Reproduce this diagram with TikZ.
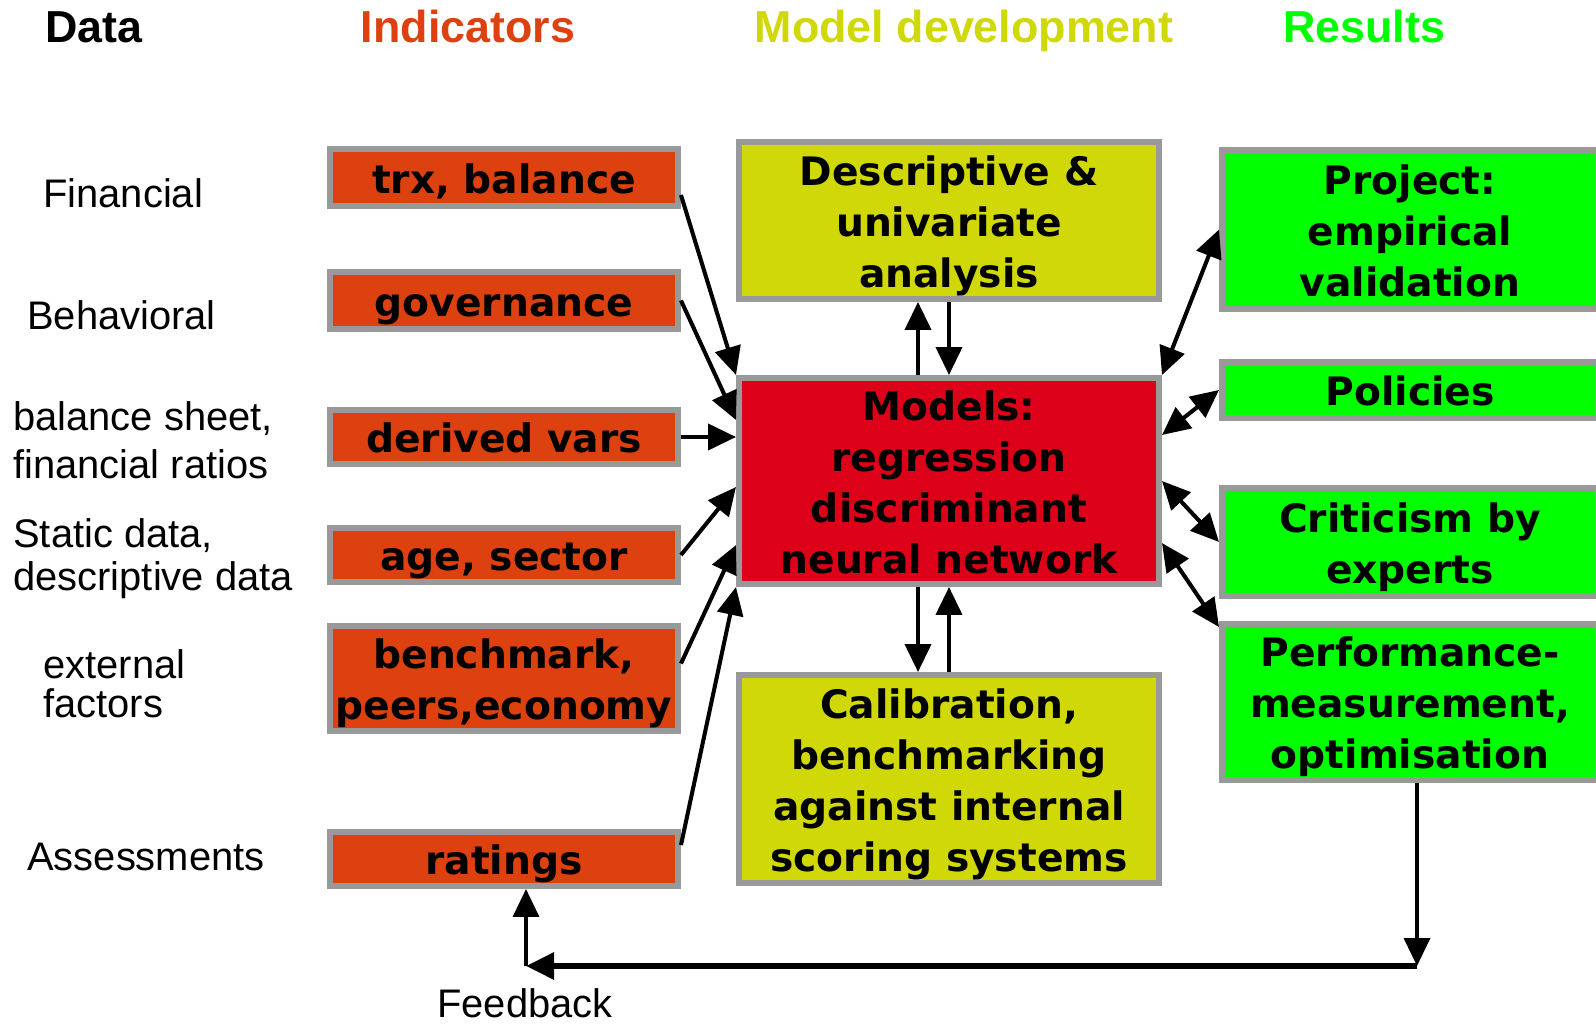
\documentclass[tikz,border=0pt]{standalone}
\usepackage{fontspec}
\setmainfont{Liberation Sans}
\newfontfamily\boxfont{DejaVu Sans}
\usetikzlibrary{arrows.meta}

\definecolor{indorange}{RGB}{221,65,15}
\definecolor{modred}{RGB}{220,0,24}
\definecolor{devyellow}{RGB}{208,216,8}
\definecolor{resgreen}{RGB}{0,255,0}
\definecolor{framegray}{RGB}{153,153,153}

% fixed line top for the box texts
\newcommand\boxtop{\rule{0pt}{23.5pt}}

\begin{document}
\begin{tikzpicture}[
    >={Triangle[length=0.56cm,width=0.52cm]},
    box/.style={draw=framegray,line width=3.4pt,align=center,inner sep=0pt,
                font=\boxfont\bfseries\fontsize{22.3}{29}\selectfont,
                execute at end node={\rule[-5.5pt]{0pt}{5.5pt}}},
    ind/.style={box,fill=indorange,minimum width=6.96cm},
    dev/.style={box,fill=devyellow,minimum width=8.4cm},
    res/.style={box,fill=resgreen,minimum width=7.52cm},
    src/.style={anchor=base west,align=left,inner sep=0pt,
                font=\fontsize{22.7}{27.2}\selectfont},
    head/.style={anchor=base,inner sep=0pt,font=\bfseries\fontsize{25.5}{30}\selectfont},
    arr/.style={->,line width=2.3pt},
    darr/.style={<->,line width=2.3pt}
]
    \useasboundingbox (0,0) rectangle (31.92,20.48);
    % Definitions
    \coordinate (TB)  at (10.08,16.93);
    \coordinate (GO)  at (10.08,14.47);
    \coordinate (DV)  at (10.08,11.74);
    \coordinate (AS)  at (10.08,9.38);
    \coordinate (BP)  at (10.08,6.91);
    \coordinate (RA)  at (10.08,3.30);
    \coordinate (DU)  at (18.98,16.07);
    \coordinate (MO)  at (18.98,10.86);
    \coordinate (CB)  at (18.98,4.90);
    \coordinate (PR)  at (28.20,15.89);
    \coordinate (PO)  at (28.20,12.68);
    \coordinate (CE)  at (28.20,9.64);
    \coordinate (PM)  at (28.20,6.44);
    \coordinate (FBR) at (28.34,1.16);
    \coordinate (FBL) at (10.52,1.16);
    % Headers
    \node(HDat) at (0.90,19.62)  [head,anchor=base west] {Data};
    \node(HInd) at (9.36,19.62)  [head,text=indorange] {Indicators};
    \node(HMod) at (19.28,19.62) [head,text=devyellow] {Model development};
    \node(HRes) at (27.28,19.62) [head,text=resgreen]  {Results};
    % Data sources (base = last line)
    \node(SFin) at (0.86,16.32) [src] {Financial};
    \node(SBeh) at (0.54,13.88) [src] {Behavioral};
    \node(SBal) at (0.26,10.92) [src] {balance sheet,\\financial ratios};
    \node(SSta) at (0.26,8.68)  [src,font=\fontsize{22.7}{24.4}\selectfont] {Static data,\\descriptive data};
    \node(SExt) at (0.86,6.14)  [src,font=\fontsize{22.7}{22.1}\selectfont] {external\\factors};
    \node(SAss) at (0.54,3.08)  [src] {Assessments};
    \node(Feed) at (10.50,0.14) [src,anchor=base] {Feedback};
    % Indicators
    \node(TrBa) at (TB) [ind,minimum height=1.14cm] {\boxtop trx, balance};
    \node(Gove) at (GO) [ind,minimum height=1.14cm] {\boxtop governance};
    \node(DeVa) at (DV) [ind,minimum height=1.08cm] {\boxtop derived vars};
    \node(AgSe) at (AS) [ind,minimum height=1.08cm] {\boxtop age, sector};
    \node(BePe) at (BP) [ind,minimum height=2.10cm] {\boxtop benchmark,\\peers,economy};
    \node(Rati) at (RA) [ind,minimum height=1.08cm] {\boxtop ratings};
    % Model development
    \node(DeUn) at (DU) [dev,minimum height=3.14cm] {\boxtop Descriptive \&\\univariate\\analysis};
    \node(Mode) at (MO) [box,fill=modred,minimum width=8.4cm,minimum height=4.12cm] {\boxtop Models:\\regression\\discriminant\\neural network};
    \node(CaBe) at (CB) [dev,minimum height=4.16cm] {\boxtop Calibration,\\benchmarking\\against internal\\scoring systems};
    % Results
    \node(Proj) at (PR) [res,minimum height=3.18cm] {\boxtop Project:\\empirical\\validation};
    \node(Poli) at (PO) [res,minimum height=1.12cm] {\boxtop Policies};
    \node(CrEx) at (CE) [res,minimum height=2.16cm] {\boxtop Criticism by\\experts};
    \node(PeMe) at (PM) [res,minimum height=3.12cm] {\boxtop Performance-\\measurement,\\optimisation};
    % Arrows
    \draw[arr]  ([yshift=-0.35cm]TrBa.east) -- (Mode.north west);
    \draw[arr]  (Gove.east)                 -- ([yshift=1.22cm]Mode.west);
    \draw[arr]  (DeVa.east)                 -- (DeVa.east -| Mode.west);
    \draw[arr]  (AgSe.east)                 -- ([yshift=-0.12cm]Mode.west);
    \draw[arr]  ([yshift=0.30cm]BePe.east)  -- ([yshift=-1.28cm]Mode.west);
    \draw[arr]  ([yshift=0.28cm]Rati.east)  -- (Mode.south west);
    \draw[arr]  ([xshift=-0.62cm]Mode.north) -- ([xshift=-0.62cm]DeUn.south);
    \draw[arr]  (DeUn.south)                -- (Mode.north);
    \draw[arr]  ([xshift=-0.62cm]Mode.south) -- ([xshift=-0.62cm]CaBe.north);
    \draw[arr]  (CaBe.north)                -- (Mode.south);
    \draw[darr] (Mode.north east)           -- (Proj.west);
    \draw[darr] ([yshift=0.92cm]Mode.east)  -- (Poli.west);
    \draw[darr] (Mode.east)                 -- (CrEx.west);
    \draw[darr] ([yshift=-1.24cm]Mode.east) -- ([yshift=-0.12cm]PeMe.north west);
    % Feedback loop
    \draw[->,line width=2pt]   (PeMe.south -| FBR) -- (FBR);
    \draw[->,line width=3.4pt] (FBR) -- (FBL);
    \draw[->,line width=2pt]   (FBL) -- (Rati.south -| FBL);
\end{tikzpicture}
\end{document}
